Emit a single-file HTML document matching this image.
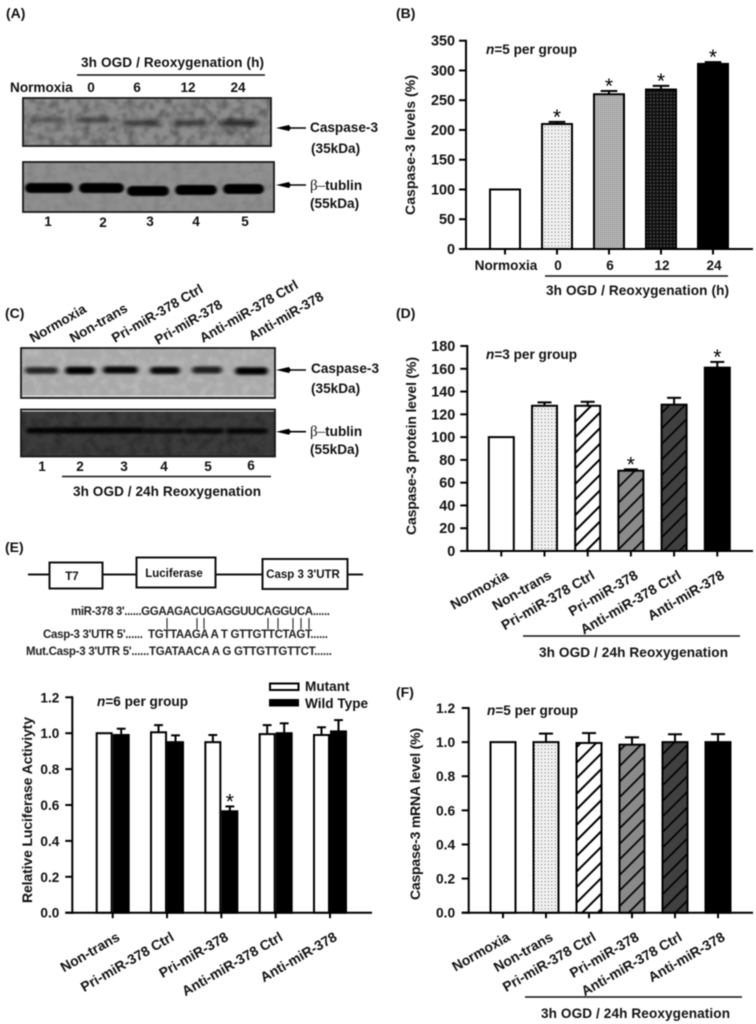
<!DOCTYPE html>
<html lang="en">
<head>
<meta charset="utf-8">
<title>Caspase-3 figure</title>
<style>
html,body{margin:0;padding:0;background:#fff;width:756px;height:1024px;overflow:hidden}
svg{display:block;filter:blur(0.45px)}
text{font-family:"Liberation Sans",sans-serif;font-weight:700;fill:#111;font-size:13.6px}
.serif{font-family:"Liberation Serif",serif;font-weight:400}
.star{font-weight:400;font-size:21px;text-anchor:middle;fill:#000}
.seq{font-size:11.5px;font-weight:700;fill:#222}
.panel{font-size:14px}
</style>
</head>
<body>
<svg id="fig" width="756" height="1024" viewBox="0 0 756 1024" xmlns="http://www.w3.org/2000/svg">
<defs>
<pattern id="dotsLight" patternUnits="userSpaceOnUse" width="3.4" height="3.4"><rect width="3.4" height="3.4" fill="#fff"/><circle cx="1" cy="1" r="0.75" fill="#777"/><circle cx="2.7" cy="2.7" r="0.5" fill="#aaa"/></pattern>
<pattern id="dotsMed" patternUnits="userSpaceOnUse" width="2" height="2"><rect width="2" height="2" fill="#c4c4c4"/><circle cx="0.6" cy="0.6" r="0.6" fill="#777"/></pattern>
<pattern id="dotsDark" patternUnits="userSpaceOnUse" width="3.4" height="3.4"><rect width="3.4" height="3.4" fill="#111"/><circle cx="1.2" cy="1.2" r="0.55" fill="#aaa"/></pattern>
<pattern id="hatchWhite" patternUnits="userSpaceOnUse" width="11" height="11" patternTransform="rotate(45)"><rect width="11" height="11" fill="#fff"/><rect width="2" height="11" fill="#000"/></pattern>
<pattern id="hatchGray" patternUnits="userSpaceOnUse" width="11" height="11" patternTransform="rotate(45)"><rect width="11" height="11" fill="#8a8a8a"/><rect width="1.7" height="11" fill="#000"/></pattern>
<pattern id="hatchDark" patternUnits="userSpaceOnUse" width="11" height="11" patternTransform="rotate(45)"><rect width="11" height="11" fill="#404040"/><rect width="1.7" height="11" fill="#000"/></pattern>
<filter id="bandSoft" x="-30%" y="-120%" width="160%" height="340%"><feGaussianBlur stdDeviation="3.2 2.2"/></filter>
<filter id="bandMid" x="-30%" y="-120%" width="160%" height="340%"><feGaussianBlur stdDeviation="2.2 1.3"/></filter>
<filter id="bandSharp" x="-20%" y="-80%" width="140%" height="260%"><feGaussianBlur stdDeviation="1.3 0.8"/></filter>
<filter id="noise" x="0" y="0" width="100%" height="100%"><feTurbulence type="fractalNoise" baseFrequency="0.11" numOctaves="2" seed="4"/><feColorMatrix type="matrix" values="0 0 0 0 0  0 0 0 0 0  0 0 0 0 0  2.0 0 0 0 -0.8"/><feGaussianBlur stdDeviation="0.9"/></filter>
<filter id="noiseLight" x="0" y="0" width="100%" height="100%"><feTurbulence type="fractalNoise" baseFrequency="0.12" numOctaves="2" seed="9"/><feColorMatrix type="matrix" values="0 0 0 0 1  0 0 0 0 1  0 0 0 0 1  1.8 0 0 0 -0.75"/><feGaussianBlur stdDeviation="0.9"/></filter>
</defs>

<!-- Panel letters -->
<text class="panel" x="6" y="18">(A)</text>
<text class="panel" x="396" y="18">(B)</text>
<text class="panel" x="5" y="318">(C)</text>
<text class="panel" x="396" y="318">(D)</text>
<text class="panel" x="5" y="552">(E)</text>
<text class="panel" x="396" y="697">(F)</text>

<!-- Panel A text -->
<text x="81" y="67" textLength="183">3h OGD / Reoxygenation (h)</text>
<line x1="77" x2="265" y1="75" y2="75" stroke="#111" stroke-width="1.6"/>
<text x="10" y="92">Normoxia</text>
<text x="91" y="92" text-anchor="middle">0</text>
<text x="137" y="92" text-anchor="middle">6</text>
<text x="188" y="92" text-anchor="middle">12</text>
<text x="238" y="92" text-anchor="middle">24</text>
<text x="48" y="226" text-anchor="middle">1</text>
<text x="103" y="227" text-anchor="middle">2</text>
<text x="150" y="226" text-anchor="middle">3</text>
<text x="196" y="226" text-anchor="middle">4</text>
<text x="245" y="226" text-anchor="middle">5</text>
<text x="310" y="132">Caspase-3</text>
<text x="311" y="153">(35kDa)</text>
<text x="310" y="190"><tspan class="serif" font-size="15">β–</tspan>tublin</text>
<text x="310" y="208">(55kDa)</text>

<!-- Panel C text -->
<text transform="translate(33,343) rotate(-30)">Normoxia</text>
<text transform="translate(73,343) rotate(-30)">Non-trans</text>
<text transform="translate(115,343) rotate(-30)">Pri-miR-378 Ctrl</text>
<text transform="translate(158,345) rotate(-30)">Pri-miR-378</text>
<text transform="translate(203,343) rotate(-30)">Anti-miR-378 Ctrl</text>
<text transform="translate(252,341) rotate(-30)">Anti-miR-378</text>
<text x="42" y="471" text-anchor="middle">1</text>
<text x="80" y="471" text-anchor="middle">2</text>
<text x="124" y="471" text-anchor="middle">3</text>
<text x="164" y="471" text-anchor="middle">4</text>
<text x="208" y="471" text-anchor="middle">5</text>
<text x="251" y="470" text-anchor="middle">6</text>
<line x1="62" x2="271" y1="476.5" y2="476.5" stroke="#111" stroke-width="1.6"/>
<text x="73" y="496" textLength="188">3h OGD / 24h Reoxygenation</text>
<text x="311" y="373">Caspase-3</text>
<text x="311" y="393">(35kDa)</text>
<text x="310" y="436"><tspan class="serif" font-size="15">β–</tspan>tublin</text>
<text x="310" y="454">(55kDa)</text>

<!-- Panel E construct diagram -->
<g fill="#fff" stroke="#111" stroke-width="2">
<line x1="28" x2="363" y1="574.5" y2="574.5"/>
<rect x="49.5" y="562.5" width="53" height="26"/>
<rect x="136.5" y="557.5" width="79" height="30"/>
<rect x="262.5" y="559" width="85" height="30"/>
</g>
<text x="72" y="580" text-anchor="middle" style="font-size:11.5px">T7</text>
<text x="174" y="577" text-anchor="middle" style="font-size:11.5px">Luciferase</text>
<text x="303" y="578" text-anchor="middle" style="font-size:11.5px">Casp 3 3'UTR</text>
<text class="seq" x="71" y="615" textLength="259">miR-378 3'......GGAAGACUGAGGUUCAGGUCA......</text>
<text class="seq" x="43" y="638" textLength="100">Casp-3 3'UTR 5'......</text>
<text class="seq" x="148" y="638" textLength="180">TGTTAAGA A T GTTGTTCTAGT......</text>
<text class="seq" x="26" y="655" textLength="306">Mut.Casp-3 3'UTR 5'......TGATAACA A G GTTGTTGTTCT......</text>
<g id="pairs" stroke="#222" stroke-width="1.1"></g>

<!-- Group brackets of charts -->
<line x1="545" x2="728" y1="276" y2="276" stroke="#111" stroke-width="1.4"/>
<text x="546" y="295" textLength="183">3h OGD / Reoxygenation (h)</text>
<line x1="523" x2="740" y1="636" y2="636" stroke="#111" stroke-width="1.6"/>
<text x="539" y="657" textLength="189">3h OGD / 24h Reoxygenation</text>
<line x1="525" x2="742" y1="997" y2="997" stroke="#111" stroke-width="1.6"/>
<text x="541" y="1018" textLength="189">3h OGD / 24h Reoxygenation</text>

<!-- Legend panel E -->
<rect x="270" y="683.5" width="28.5" height="6.5" fill="#fff" stroke="#000" stroke-width="2"/>
<rect x="269" y="699" width="30" height="7.5" fill="#000"/>
<text x="305" y="691">Mutant</text>
<text x="305" y="708">Wild Type</text>

<g id="blots"></g>
<g id="charts"></g>
</svg>

<script>
/* ---------- chart data ---------- */
const treatmentLabels = ['Normoxia','Non-trans','Pri-miR-378 Ctrl','Pri-miR-378','Anti-miR-378 Ctrl','Anti-miR-378'];
const treatmentFills = ['#fff','url(#dotsLight)','url(#hatchWhite)','url(#hatchGray)','url(#hatchDark)','#000'];

const bCategories = ['Normoxia','0','6','12','24'];
const bValues = [100,210,260,268,311];
const bErrors = [0,3.5,5.5,6,3];
const bStars = [false,true,true,true,true];
const bTickLabels = ['0','50','100','150','200','250','300','350'];
const bFills = ['#fff','url(#dotsLight)','url(#dotsMed)','url(#dotsDark)','#000'];

const dCategories = treatmentLabels;
const dValues = [100,127.5,127.5,70.5,128.5,161];
const dErrors = [0,3,3.5,1.2,6,5];
const dStars = [false,false,false,true,false,true];
const dTickLabels = ['0','20','40','60','80','100','120','140','160','180'];

const eCategories = ['Non-trans','Pri-miR-378 Ctrl','Pri-miR-378','Anti-miR-378 Ctrl','Anti-miR-378'];
const eMutant = [1.0,1.005,0.95,0.995,0.99];
const eMutantErrors = [0,0.04,0.04,0.05,0.043];
const eWildType = [0.99,0.95,0.565,1.0,1.01];
const eWildTypeErrors = [0.035,0.038,0.027,0.055,0.063];
const eWildStars = [false,false,true,false,false];
const eTickLabels = ['0.0','0.2','0.4','0.6','0.8','1.0','1.2'];

const fCategories = treatmentLabels;
const fValues = [1,1,0.995,0.985,1,1];
const fErrors = [0,0.05,0.058,0.043,0.046,0.047];
const fTickLabels = ['0.0','0.2','0.4','0.6','0.8','1.0','1.2'];

/* ---------- blot band intensities (0-1) per lane ---------- */
const a1Bands = [0.35,0.5,0.62,0.62,0.8];
const a2Bands = [1,1,1,1,1];
const c1Bands = [0.72,1,0.92,0.9,0.8,1];
const c2Bands = [0.9,0.95,0.95,0.75,0.75,0.8];

const NS = 'http://www.w3.org/2000/svg';
function mk(parent, tag, attrs, txt){
  const n = document.createElementNS(NS, tag);
  for (const k in attrs) n.setAttribute(k, attrs[k]);
  if (txt !== undefined) n.textContent = txt;
  parent.appendChild(n);
  return n;
}
function linear(d0, d1, r0, r1){ return v => r0 + (v - d0) / (d1 - d0) * (r1 - r0); }

/* ---------- axes ---------- */
function drawAxes(g, c){
  const maxV = parseFloat(c.ticks[c.ticks.length - 1]);
  const y = linear(0, maxV, c.y0, c.yTop);
  const yAxis = mk(g, 'line', {x1:c.axisX, x2:c.axisX, y1:c.y0 + 1, y2:c.yTop - 1, stroke:'#000', 'stroke-width':2});
  
  
  const xAxis = mk(g, 'line', {x1:c.axisX - 7, x2:c.xEnd, y1:c.y0, y2:c.y0, stroke:'#000', 'stroke-width':2});
  
  
  c.ticks.forEach(t => {
    const v = parseFloat(t);
    const tick = mk(g, 'line', {x1:c.axisX - 7, x2:c.axisX, y1:y(v), y2:y(v), stroke:'#000', 'stroke-width':2});
    
    
    const lab = mk(g, 'text', {x:c.axisX - c.labelGap, y:y(v) + 5, 'text-anchor':'end'}, t);
    lab.style.fontSize = c.tickSize + 'px';
    
    
  });
  const title = mk(g, 'text', {transform:`translate(${c.titleX},${c.titleY}) rotate(-90)`, 'text-anchor':'middle', textLength:c.titleLen}, c.title);
  title.style.fontSize = '14px';
  
  
  const nLabel = mk(g, 'text', {x:c.nX, y:c.nY});
  
  
  mk(nLabel, 'tspan', {'font-style':'italic'}, 'n');
  mk(nLabel, 'tspan', {}, '=' + c.n + ' per group');
  return y;
}
function xLabel(g, c, x, s){
  if (c.flat){
    const t = mk(g, 'text', {x:x + 1, y:c.y0 + 21, 'text-anchor':'middle'}, s);
    
    
  } else {
    const t = mk(g, 'text', {transform:`translate(${x + 8},${c.y0 + 27}) rotate(-30)`, 'text-anchor':'end'}, s);
    t.style.fontSize = '13.9px';
    
    
  }
}
function xTick(g, c, x){
  const t = mk(g, 'line', {x1:x, x2:x, y1:c.y0, y2:c.y0 + 5.5, stroke:'#000', 'stroke-width':2});
  
  
}
function drawBar(g, y, c, x0, w, v, err, fill, star){
  const topY = y(v), base = c.y0;
  const cx = x0 + w / 2;
  let capY = topY;
  if (err > 0){
    capY = y(v + err);
    const stem = mk(g, 'line', {x1:cx, x2:cx, y1:topY, y2:capY, stroke:'#000', 'stroke-width':2});
    
    
    const cap = mk(g, 'line', {x1:cx - w * 0.26, x2:cx + w * 0.26, y1:capY, y2:capY, stroke:'#000', 'stroke-width':2});
    
    
  }
  const bar = mk(g, 'rect', {x:x0 + 1, y:topY, width:w - 2, height:base - topY, fill:fill, stroke:'#000', 'stroke-width':2});
  
  
  if (star){
    const s = mk(g, 'text', {x:cx, y:capY + 2, class:'star'}, '*');
    
    
  }
}
function drawSingle(id, c, cats, vals, errs, fills, stars, ticks){
  const g = mk(document.getElementById('charts'), 'g', {id:id});
  
  
  c.ticks = ticks;
  const y = drawAxes(g, c);
  const x = linear(0, cats.length - 1, c.cFirst, c.cLast);
  cats.forEach((name, i) => {
    drawBar(g, y, c, x(i) - c.barW / 2, c.barW, vals[i], errs[i], fills[i], stars[i]);
    xTick(g, c, x(i));
    xLabel(g, c, x(i), name);
  });
}

drawSingle('chart-b', {axisX:466, y0:249, yTop:40.7, xEnd:753, labelGap:11, tickSize:14.4,
  title:'Caspase-3 levels (%)', titleX:415, titleY:145, titleLen:140, n:5, nX:486, nY:54,
  cFirst:505, cLast:713, barW:32, flat:true}, bCategories, bValues, bErrors, bFills, bStars, bTickLabels);

drawSingle('chart-d', {axisX:467.3, y0:551, yTop:346, xEnd:753, labelGap:12, tickSize:14.4,
  title:'Caspase-3 protein level (%)', titleX:416, titleY:446, titleLen:178, n:3, nX:486, nY:359,
  cFirst:501.3, cLast:717.3, barW:27, flat:false}, dCategories, dValues, dErrors, treatmentFills, dStars, dTickLabels);

drawSingle('chart-f', {axisX:468.7, y0:912.7, yTop:708, xEnd:753, labelGap:13.5, tickSize:13.8,
  title:'Caspase-3 mRNA level (%)', titleX:420, titleY:814, titleLen:172, n:5, nX:487, nY:715,
  cFirst:503, cLast:718, barW:27, flat:false}, fCategories, fValues, fErrors, treatmentFills, [], fTickLabels);

/* grouped chart E */
(function(){
  const g = mk(document.getElementById('charts'), 'g', {id:'chart-e'});
  
  
  const c = {axisX:72.3, y0:912.7, yTop:697.3, xEnd:372, labelGap:13, tickSize:13.6, ticks:eTickLabels,
    title:'Relative Luciferase Activiyty', titleX:32, titleY:810, titleLen:186, n:6, nX:97, nY:706};
  const y = drawAxes(g, c);
  const x = linear(0, eCategories.length - 1, 112.7, 330);
  const w = 17;
  eCategories.forEach((name, i) => {
    drawBar(g, y, c, x(i) - w, w, eMutant[i], eMutantErrors[i], '#fff', false);
    drawBar(g, y, c, x(i), w, eWildType[i], eWildTypeErrors[i], '#000', eWildStars[i]);
    xTick(g, c, x(i));
    xLabel(g, c, x(i), name);
  });
})();

/* ---------- blots ---------- */
function drawBlot(name, box, bg, lanes, values, bandY, bandH, filter, noise, noiseAmount, baseShade, strip){
  const root = document.getElementById('blots');
  const g = mk(root, 'g', {});
  
  
  const r = mk(g, 'rect', {x:box[0], y:box[1], width:box[2], height:box[3], fill:bg});
  
  
  const nz = mk(g, 'rect', {x:box[0], y:box[1], width:box[2], height:box[3], filter:'url(#' + noise + ')', opacity:noiseAmount});
  
  
  values.forEach((v, i) => {
    const left = lanes[i][0];
    const width = lanes[i][1] - lanes[i][0];
    const h = bandH * (0.6 + v * 0.4);
    const shade = Math.round(baseShade * (1 - v));
    const b = mk(g, 'rect', {x:left, y:bandY[i] - h / 2, width:width, height:h, rx:h / 2, ry:h / 2, fill:`rgb(${shade},${shade},${shade})`, filter:'url(#' + filter + ')', opacity:0.45 + v * 0.55});
    
    
  });
  if (strip !== null){
    const s = mk(g, 'line', {x1:box[0] + 1, x2:box[0] + box[2] - 1, y1:strip, y2:strip, stroke:'#e8e8e8', 'stroke-width':1});
    
    
  }
  const frame = mk(g, 'rect', {x:box[0], y:box[1], width:box[2], height:box[3], fill:'none', stroke:'#1a1a1a', 'stroke-width':1.8});
  
  
}
function arrow(x1, x2, y){
  const g = mk(document.getElementById('blots'), 'g', {});
  
  
  mk(g, 'line', {x1:x1 + 8, x2:x2, y1:y, y2:y, stroke:'#000', 'stroke-width':1.6});
  mk(g, 'polygon', {points:`${x1},${y} ${x1 + 13},${y - 3} ${x1 + 15},${y} ${x1 + 13},${y + 3}`, fill:'#000'});
}
drawBlot('blot-a-caspase', [23,98,248,48], '#8d8d8d',
  [[30,63],[75,110],[122,158],[173,207],[220,258]], a1Bands, [120,120,123,123,123], 6, 'bandSoft', 'noise', 0.4, 60, null);
drawBlot('blot-a-tublin', [23,162,251,50], '#8f8f8f',
  [[25,73],[79,124],[127,169],[175,217],[223,264]], a2Bands, [188,188,191,190,189], 10, 'bandSharp', 'noise', 0.1, 40, null);
drawBlot('blot-c-caspase', [21,348,254,50], '#a9a9a9',
  [[25,58],[65,95],[103,138],[150,180],[192,222],[235,268]], c1Bands, [370.5,370.5,370,370.5,370,371], 7.5, 'bandMid', 'noiseLight', 0.25, 50, 396);
drawBlot('blot-c-tublin', [21,409.5,254,47], '#3b3b3b',
  [[26,68],[64,108],[104,144],[142,184],[184,224],[226,268]], c2Bands, [430.5,430.5,430.5,431,431,431], 6, 'bandMid', 'noise', 0.3, 20, 411);
arrow(276, 306, 128);
arrow(276, 306, 185);
arrow(276, 306, 370);
arrow(276, 306, 431.7);

/* ---------- base-pair marks under the sequence ---------- */
const pairColumns = [167,197,204,268,278,293,301,309];
pairColumns.forEach(px => {
  const p = mk(document.getElementById('pairs'), 'line', {x1:px, x2:px, y1:618, y2:629});
  
  
});
</script>
</body>
</html>
